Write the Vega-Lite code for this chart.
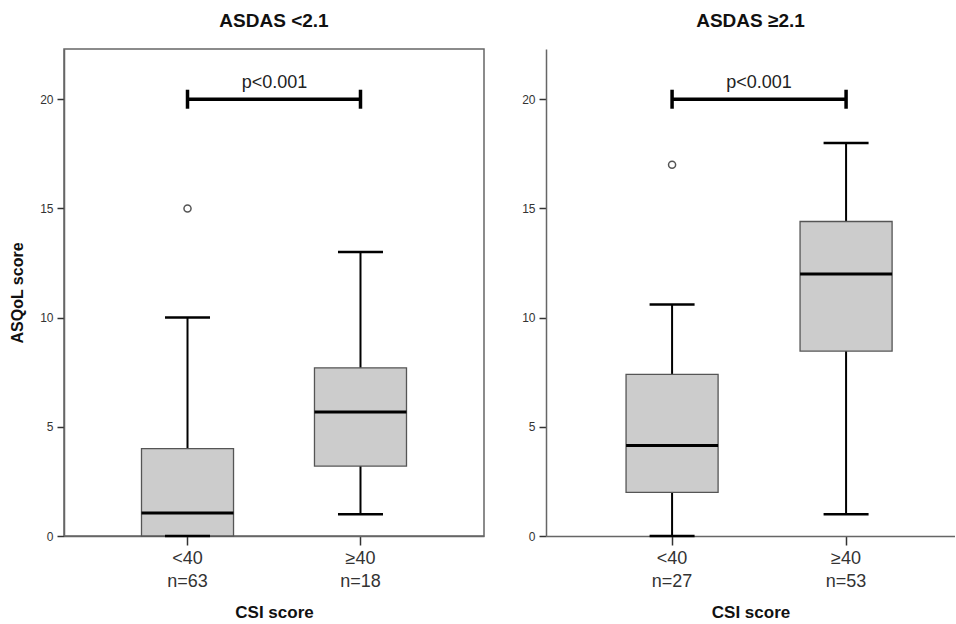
{
  "$schema": "https://vega.github.io/schema/vega-lite/v6.json",
  "background": "white",
  "padding": {"left": 8, "top": 11, "right": 0, "bottom": 0},
  "spacing": 36,
  "config": {
    "font": "Liberation Sans",
    "view": {"stroke": "#666", "strokeWidth": 1.5},
    "axis": {"grid": false, "domainColor": "#666", "domainWidth": 1.5, "tickColor": "#333", "tickWidth": 1.5},
    "title": {"fontSize": 19, "fontWeight": "bold", "color": "#111", "anchor": "middle", "offset": 18},
    "tick": {"opacity": 1},
    "point": {"opacity": 1}
  },
  "datasets": {
    "leftBox": [
      {"csi": "<40|n=63", "lower": 0, "q1": 0, "median": 1.05, "q3": 4, "upper": 10},
      {"csi": "≥40|n=18", "lower": 1, "q1": 3.2, "median": 5.68, "q3": 7.7, "upper": 13}
    ],
    "leftOut": [{"csi": "<40|n=63", "value": 15}],
    "leftSig": [{"csi": "<40|n=63", "level": 20}, {"csi": "≥40|n=18", "level": 20}],
    "leftTxt": [{"csi": "<40|n=63", "level": 20.5, "label": "p<0.001"}],
    "rightBox": [
      {"csi": "<40|n=27", "lower": 0, "q1": 2, "median": 4.14, "q3": 7.4, "upper": 10.6},
      {"csi": "≥40|n=53", "lower": 1, "q1": 8.47, "median": 12, "q3": 14.4, "upper": 18}
    ],
    "rightOut": [{"csi": "<40|n=27", "value": 17}],
    "rightSig": [{"csi": "<40|n=27", "level": 20}, {"csi": "≥40|n=53", "level": 20}],
    "rightTxt": [{"csi": "<40|n=27", "level": 20.5, "label": "p<0.001"}]
  },
  "hconcat": [
    {
      "title": "ASDAS <2.1",
      "width": 420,
      "height": 487,
      "encoding": {
        "x": {
          "field": "csi", "type": "nominal",
          "scale": {"domain": ["<40|n=63", "≥40|n=18"], "paddingInner": 0.468, "paddingOuter": 0.448, "align": 0.5},
          "axis": {"title": "CSI score", "titleFontSize": 17, "titleFontWeight": "bold", "titleColor": "#111", "titlePadding": 14,
                   "labelExpr": "split(datum.value, '|')", "labelAngle": 0, "labelFontSize": 18, "labelColor": "#333",
                   "labelLineHeight": 23, "labelPadding": 4, "tickSize": 9}
        }
      },
      "layer": [
        {
          "data": {"name": "leftBox"},
          "mark": {"type": "rule", "color": "black", "strokeWidth": 2},
          "encoding": {
            "y": {"field": "lower", "type": "quantitative",
                  "scale": {"domain": [0, 22.3], "nice": false},
                  "axis": {"title": "ASQoL score", "titleFontSize": 16, "titleFontWeight": "bold", "titleColor": "#111", "titlePadding": 14,
                           "values": [0, 5, 10, 15, 20], "labelFontSize": 12, "labelColor": "#333", "tickSize": 7, "labelPadding": 4}},
            "y2": {"field": "upper"}
          }
        },
        {
          "data": {"name": "leftBox"},
          "mark": {"type": "bar", "fill": "#cccccc", "stroke": "#555", "strokeWidth": 1.3},
          "encoding": {"y": {"field": "q1", "type": "quantitative"}, "y2": {"field": "q3"}}
        },
        {
          "data": {"name": "leftBox"},
          "mark": {"type": "tick", "color": "black", "thickness": 3, "size": 92, "opacity": 1},
          "encoding": {"y": {"field": "median", "type": "quantitative"}}
        },
        {
          "data": {"name": "leftBox"},
          "mark": {"type": "tick", "color": "black", "thickness": 2.5, "size": 45, "opacity": 1},
          "encoding": {"y": {"field": "lower", "type": "quantitative"}}
        },
        {
          "data": {"name": "leftBox"},
          "mark": {"type": "tick", "color": "black", "thickness": 2.5, "size": 45, "opacity": 1},
          "encoding": {"y": {"field": "upper", "type": "quantitative"}}
        },
        {
          "data": {"name": "leftOut"},
          "mark": {"type": "point", "shape": "circle", "filled": false, "size": 50, "stroke": "#555", "strokeWidth": 1.5, "opacity": 1},
          "encoding": {"y": {"field": "value", "type": "quantitative"}}
        },
        {
          "data": {"name": "leftSig"},
          "mark": {"type": "line", "color": "black", "strokeWidth": 3.5},
          "encoding": {"y": {"field": "level", "type": "quantitative"}}
        },
        {
          "data": {"name": "leftSig"},
          "mark": {"type": "tick", "orient": "vertical", "color": "black", "thickness": 3.5, "size": 19, "opacity": 1},
          "encoding": {"y": {"field": "level", "type": "quantitative"}}
        },
        {
          "data": {"name": "leftTxt"},
          "mark": {"type": "text", "fontSize": 18, "color": "#222", "align": "center", "baseline": "alphabetic", "dx": 87},
          "encoding": {"y": {"field": "level", "type": "quantitative"}, "text": {"field": "label"}}
        }
      ]
    },
    {
      "title": "ASDAS ≥2.1",
      "width": 409,
      "height": 487,
      "view": {"stroke": null},
      "encoding": {
        "x": {
          "field": "csi", "type": "nominal",
          "scale": {"domain": ["<40|n=27", "≥40|n=53"], "paddingInner": 0.471, "paddingOuter": 0.4108, "align": 0.56},
          "axis": {"title": "CSI score", "titleFontSize": 17, "titleFontWeight": "bold", "titleColor": "#111", "titlePadding": 14,
                   "labelExpr": "split(datum.value, '|')", "labelAngle": 0, "labelFontSize": 18, "labelColor": "#333",
                   "labelLineHeight": 23, "labelPadding": 4, "tickSize": 9}
        }
      },
      "layer": [
        {
          "mark": {"type": "rule", "color": "#666", "strokeWidth": 1.5},
          "encoding": {"y": {"datum": 22.3, "type": "quantitative"}}
        },
        {
          "data": {"name": "rightBox"},
          "mark": {"type": "rule", "color": "black", "strokeWidth": 2},
          "encoding": {
            "y": {"field": "lower", "type": "quantitative",
                  "scale": {"domain": [0, 22.3], "nice": false},
                  "axis": {"title": null, "values": [0, 5, 10, 15, 20], "labelFontSize": 12, "labelColor": "#333", "tickSize": 7, "labelPadding": 4}},
            "y2": {"field": "upper"}
          }
        },
        {
          "data": {"name": "rightBox"},
          "mark": {"type": "bar", "fill": "#cccccc", "stroke": "#555", "strokeWidth": 1.3},
          "encoding": {"y": {"field": "q1", "type": "quantitative"}, "y2": {"field": "q3"}}
        },
        {
          "data": {"name": "rightBox"},
          "mark": {"type": "tick", "color": "black", "thickness": 3, "size": 92, "opacity": 1},
          "encoding": {"y": {"field": "median", "type": "quantitative"}}
        },
        {
          "data": {"name": "rightBox"},
          "mark": {"type": "tick", "color": "black", "thickness": 2.5, "size": 45, "opacity": 1},
          "encoding": {"y": {"field": "lower", "type": "quantitative"}}
        },
        {
          "data": {"name": "rightBox"},
          "mark": {"type": "tick", "color": "black", "thickness": 2.5, "size": 45, "opacity": 1},
          "encoding": {"y": {"field": "upper", "type": "quantitative"}}
        },
        {
          "data": {"name": "rightOut"},
          "mark": {"type": "point", "shape": "circle", "filled": false, "size": 50, "stroke": "#555", "strokeWidth": 1.5, "opacity": 1},
          "encoding": {"y": {"field": "value", "type": "quantitative"}}
        },
        {
          "data": {"name": "rightSig"},
          "mark": {"type": "line", "color": "black", "strokeWidth": 3.5},
          "encoding": {"y": {"field": "level", "type": "quantitative"}}
        },
        {
          "data": {"name": "rightSig"},
          "mark": {"type": "tick", "orient": "vertical", "color": "black", "thickness": 3.5, "size": 19, "opacity": 1},
          "encoding": {"y": {"field": "level", "type": "quantitative"}}
        },
        {
          "data": {"name": "rightTxt"},
          "mark": {"type": "text", "fontSize": 18, "color": "#222", "align": "center", "baseline": "alphabetic", "dx": 87},
          "encoding": {"y": {"field": "level", "type": "quantitative"}, "text": {"field": "label"}}
        }
      ]
    }
  ]
}
